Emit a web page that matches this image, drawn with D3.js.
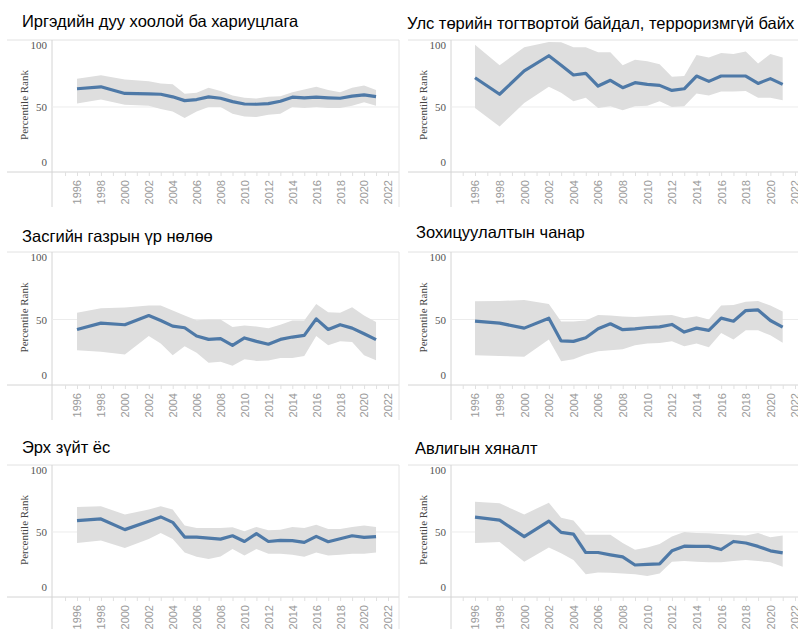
<!DOCTYPE html>
<html>
<head>
<meta charset="utf-8">
<script src="https://cdn.jsdelivr.net/npm/d3@7"></script>
<style>
  body { margin: 0; background: #fff; }
  svg { display: block; }
</style>
</head>
<body>
<script>
// years with data (annual from 2002)
var years = [1996, 1998, 2000, 2002, 2003, 2004, 2005, 2006, 2007, 2008, 2009, 2010,
             2011, 2012, 2013, 2014, 2015, 2016, 2017, 2018, 2019, 2020, 2021];
var tickYears = [1996, 1998, 2000, 2002, 2004, 2006, 2008, 2010, 2012, 2014, 2016, 2018, 2020, 2022];
var yTicks = [0, 50, 100];

var titles = ["Иргэдийн дуу хоолой ба хариуцлага",
              "Улс төрийн тогтвортой байдал, терроризмгүй байх",
              "Засгийн газрын үр нөлөө",
              "Зохицуулалтын чанар",
              "Эрх зүйт ёс",
              "Авлигын хяналт"];

var vaEst  = [64.0, 65.5, 60.4, 60.1, 59.8, 57.8, 54.9, 55.7, 57.8, 56.7, 54.1, 52.3, 52.1, 52.6, 54.4, 57.5, 57.0, 57.5, 57.0, 56.7, 58.3, 59.3, 58.0];
var vaHigh = [71.8, 74.4, 71.2, 69.7, 68.1, 67.4, 60.1, 60.9, 64.8, 62.2, 58.8, 57.0, 56.5, 57.8, 58.3, 61.4, 63.5, 65.5, 63.0, 61.4, 64.8, 66.6, 63.0];
var vaLow  = [52.6, 55.7, 51.8, 51.0, 48.4, 46.6, 41.5, 46.6, 50.0, 50.0, 44.8, 42.7, 42.2, 44.0, 44.8, 50.0, 49.2, 50.0, 49.2, 49.2, 51.0, 53.6, 51.0];

var psEst  = [72.5, 59.8, 77.7, 89.4, 82.1, 74.6, 75.9, 66.1, 70.5, 64.8, 68.7, 67.4, 66.6, 62.7, 64.0, 73.8, 69.7, 73.8, 73.8, 73.8, 68.1, 71.8, 67.4];
var psHigh = [97.9, 82.1, 95.9, 100.0, 99.7, 95.9, 95.9, 92.0, 92.0, 82.1, 86.3, 85.2, 82.9, 73.3, 73.8, 89.9, 88.1, 91.5, 90.7, 92.7, 83.4, 90.7, 88.1];
var psLow  = [49.2, 35.0, 53.1, 65.5, 60.9, 54.4, 57.0, 49.2, 50.5, 47.4, 50.5, 51.0, 54.4, 50.0, 50.5, 60.4, 58.8, 61.9, 61.9, 62.2, 57.0, 57.0, 55.2];

var geEst  = [42.4, 47.2, 46.0, 53.0, 49.2, 44.9, 43.7, 37.4, 34.8, 35.4, 30.3, 35.9, 33.3, 31.1, 34.8, 36.6, 37.9, 50.5, 42.4, 46.0, 43.4, 39.1, 34.6];
var geHigh = [55.1, 58.6, 59.1, 60.6, 60.6, 56.8, 53.0, 49.5, 50.0, 50.0, 44.2, 45.5, 44.7, 43.4, 46.0, 49.2, 49.2, 61.9, 55.6, 55.1, 59.3, 53.0, 48.0];
var geLow  = [26.5, 25.3, 23.2, 37.4, 31.6, 22.7, 29.5, 24.7, 16.9, 17.7, 14.6, 19.7, 18.4, 18.7, 20.7, 20.7, 22.2, 37.4, 30.3, 33.3, 32.8, 22.7, 18.9];

var rqEst  = [48.7, 47.2, 43.4, 51.0, 33.6, 33.3, 36.1, 42.9, 46.7, 42.2, 42.9, 43.9, 44.4, 46.2, 40.4, 43.4, 41.7, 51.0, 48.7, 56.8, 57.3, 49.2, 44.2];
var rqHigh = [63.9, 64.1, 64.9, 61.9, 48.5, 48.5, 49.2, 53.5, 53.0, 52.3, 51.8, 52.5, 53.0, 53.5, 51.0, 52.5, 50.0, 60.6, 61.1, 63.6, 64.1, 60.6, 56.1];
var rqLow  = [22.7, 22.2, 21.5, 34.8, 18.2, 19.7, 23.2, 25.8, 26.5, 27.3, 30.3, 31.6, 32.1, 33.3, 29.5, 31.6, 28.8, 39.6, 34.8, 41.7, 41.7, 37.9, 32.3];

var rlEst  = [58.7, 60.0, 51.8, 58.2, 61.6, 57.4, 46.1, 46.1, 45.3, 44.5, 47.1, 42.7, 48.7, 42.7, 43.5, 43.3, 42.0, 46.6, 42.5, 44.8, 47.1, 45.8, 46.4];
var rlHigh = [69.3, 69.8, 63.4, 67.2, 69.8, 67.2, 54.9, 53.1, 53.1, 53.1, 53.6, 50.5, 53.9, 51.3, 51.8, 53.9, 53.1, 55.6, 52.3, 52.3, 53.9, 54.9, 53.9];
var rlLow  = [41.5, 43.5, 37.6, 44.6, 49.2, 44.6, 34.3, 30.9, 29.3, 31.1, 36.9, 31.9, 36.9, 33.2, 33.2, 32.5, 30.9, 34.3, 31.9, 32.5, 33.2, 33.2, 34.3];

var ccEst  = [61.4, 59.1, 46.4, 58.3, 49.7, 48.4, 34.2, 34.2, 32.4, 30.8, 24.6, 25.1, 25.4, 35.5, 39.1, 38.9, 38.9, 36.5, 42.7, 41.5, 38.9, 35.5, 33.9];
var ccHigh = [73.3, 72.0, 63.5, 72.5, 60.9, 58.8, 47.9, 47.9, 47.9, 41.5, 36.3, 38.1, 40.7, 46.6, 50.0, 49.2, 49.0, 48.4, 47.9, 47.2, 49.2, 45.9, 47.2];
var ccLow  = [41.5, 42.2, 27.2, 38.1, 33.7, 28.5, 17.4, 18.9, 18.7, 18.1, 17.4, 16.1, 18.1, 27.2, 27.7, 27.2, 26.7, 26.7, 27.7, 28.5, 27.7, 26.7, 23.3];

var series = [[vaEst, vaLow, vaHigh], [psEst, psLow, psHigh], [geEst, geLow, geHigh],
              [rqEst, rqLow, rqHigh], [rlEst, rlLow, rlHigh], [ccEst, ccLow, ccHigh]];

// layout of the 2x3 grid
var cols = [
  {lineStart: 7,   left: 52,  right: 399, x0: 77,  x1: 388},
  {lineStart: 408, left: 451, right: 798, x0: 475, x1: 795}
];
var rows = [{top: 40, bottom: 172}, {top: 252, bottom: 385}, {top: 465, bottom: 597}];
var titlePos = [[22, 27], [407, 29], [22, 242], [416, 238], [22, 453], [415, 454]];

var svg = d3.select("body").append("svg")
    .attr("width", 798)
    .attr("height", 629);

series.forEach(function(s, i) {
  var col = cols[i % 2], row = rows[Math.floor(i / 2)];
  var data = years.map(function(yr, k) {
    return {year: yr, est: s[0][k], lo: s[1][k], hi: s[2][k]};
  });

  var x = d3.scaleLinear().domain([1996, 2022]).range([col.x0, col.x1]);
  var y = d3.scaleLinear().domain([0, 101.5]).range([row.bottom, row.top]);

  var g = svg.append("g");

  // title
  g.append("text")
      .attr("x", titlePos[i][0])
      .attr("y", titlePos[i][1])
      .style("font-family", "Liberation Sans, Arial, sans-serif")
      .style("font-size", "16.5px")
      .style("fill", "#000")
      .text(titles[i]);

  // frame lines
  var frame = "#d4d4d4";
  g.append("line").attr("x1", col.lineStart).attr("x2", col.right)
      .attr("y1", row.top).attr("y2", row.top).attr("stroke", "#e2e2e2");
  g.append("line").attr("x1", col.lineStart).attr("x2", col.right)
      .attr("y1", row.bottom).attr("y2", row.bottom).attr("stroke", frame);
  g.append("line").attr("x1", col.left).attr("x2", col.left)
      .attr("y1", row.top).attr("y2", Math.min(row.bottom + 35, 629)).attr("stroke", frame);
  if (i % 2 === 0) {
    g.append("line").attr("x1", col.right).attr("x2", col.right)
        .attr("y1", row.top).attr("y2", row.bottom + 35).attr("stroke", "#e4e4e4");
  }

  // gridline at 50
  g.append("line").attr("x1", col.left).attr("x2", col.right)
      .attr("y1", y(50)).attr("y2", y(50)).attr("stroke", "#ececec");

  // y axis labels
  var yAxis = g.append("g")
      .attr("transform", "translate(" + (col.left - 4) + ",0)")
      .call(d3.axisLeft(y).tickValues(yTicks).tickSize(0).tickPadding(1));
  yAxis.select(".domain").remove();
  yAxis.selectAll("text")
      .style("font-family", "Liberation Serif, Times New Roman, serif")
      .style("font-size", "11px")
      .style("fill", "#555")
      .attr("dy", function(d) { return d === 100 ? "0.6em" : (d === 0 ? "-0.6em" : "0.32em"); });

  g.append("text")
      .attr("transform", "translate(" + (col.left - 28) + "," + ((row.top + row.bottom) / 2 - 1) + ") rotate(-90)")
      .attr("text-anchor", "middle")
      .attr("dy", "0.35em")
      .style("font-family", "Liberation Serif, Times New Roman, serif")
      .style("font-size", "11px")
      .style("fill", "#444")
      .text("Percentile Rank");

  // x axis: minor ticks each year, labels every 2 years
  var xMinor = g.append("g")
      .attr("transform", "translate(0," + row.bottom + ")")
      .call(d3.axisBottom(x).tickValues(d3.range(1995, 2023)).tickSize(4).tickFormat(""));
  xMinor.select(".domain").remove();
  xMinor.selectAll("line").attr("stroke", "#e0e0e0");

  var xAxis = g.append("g")
      .attr("transform", "translate(0," + row.bottom + ")")
      .call(d3.axisBottom(x).tickValues(tickYears).tickSize(0).tickFormat(d3.format("d")));
  xAxis.select(".domain").remove();
  xAxis.selectAll("text")
      .attr("transform", "rotate(-90)")
      .attr("text-anchor", "end")
      .attr("x", -8)
      .attr("y", 0)
      .attr("dy", "0.35em")
      .style("font-family", "Liberation Sans, Arial, sans-serif")
      .style("font-size", "11px")
      .style("fill", "#9a9a9a");

  // confidence band
  var area = d3.area()
      .x(function(d) { return x(d.year); })
      .y0(function(d) { return y(d.lo); })
      .y1(function(d) { return y(d.hi); });
  g.append("path")
      .datum(data)
      .attr("d", area)
      .attr("fill", "#dedede");

  // estimate line
  var line = d3.line()
      .x(function(d) { return x(d.year); })
      .y(function(d) { return y(d.est); });
  g.append("path")
      .datum(data)
      .attr("d", line)
      .attr("fill", "none")
      .attr("stroke", "#4e79a7")
      .attr("stroke-width", 3.2)
      .attr("stroke-linejoin", "round");
});
</script>
</body>
</html>
